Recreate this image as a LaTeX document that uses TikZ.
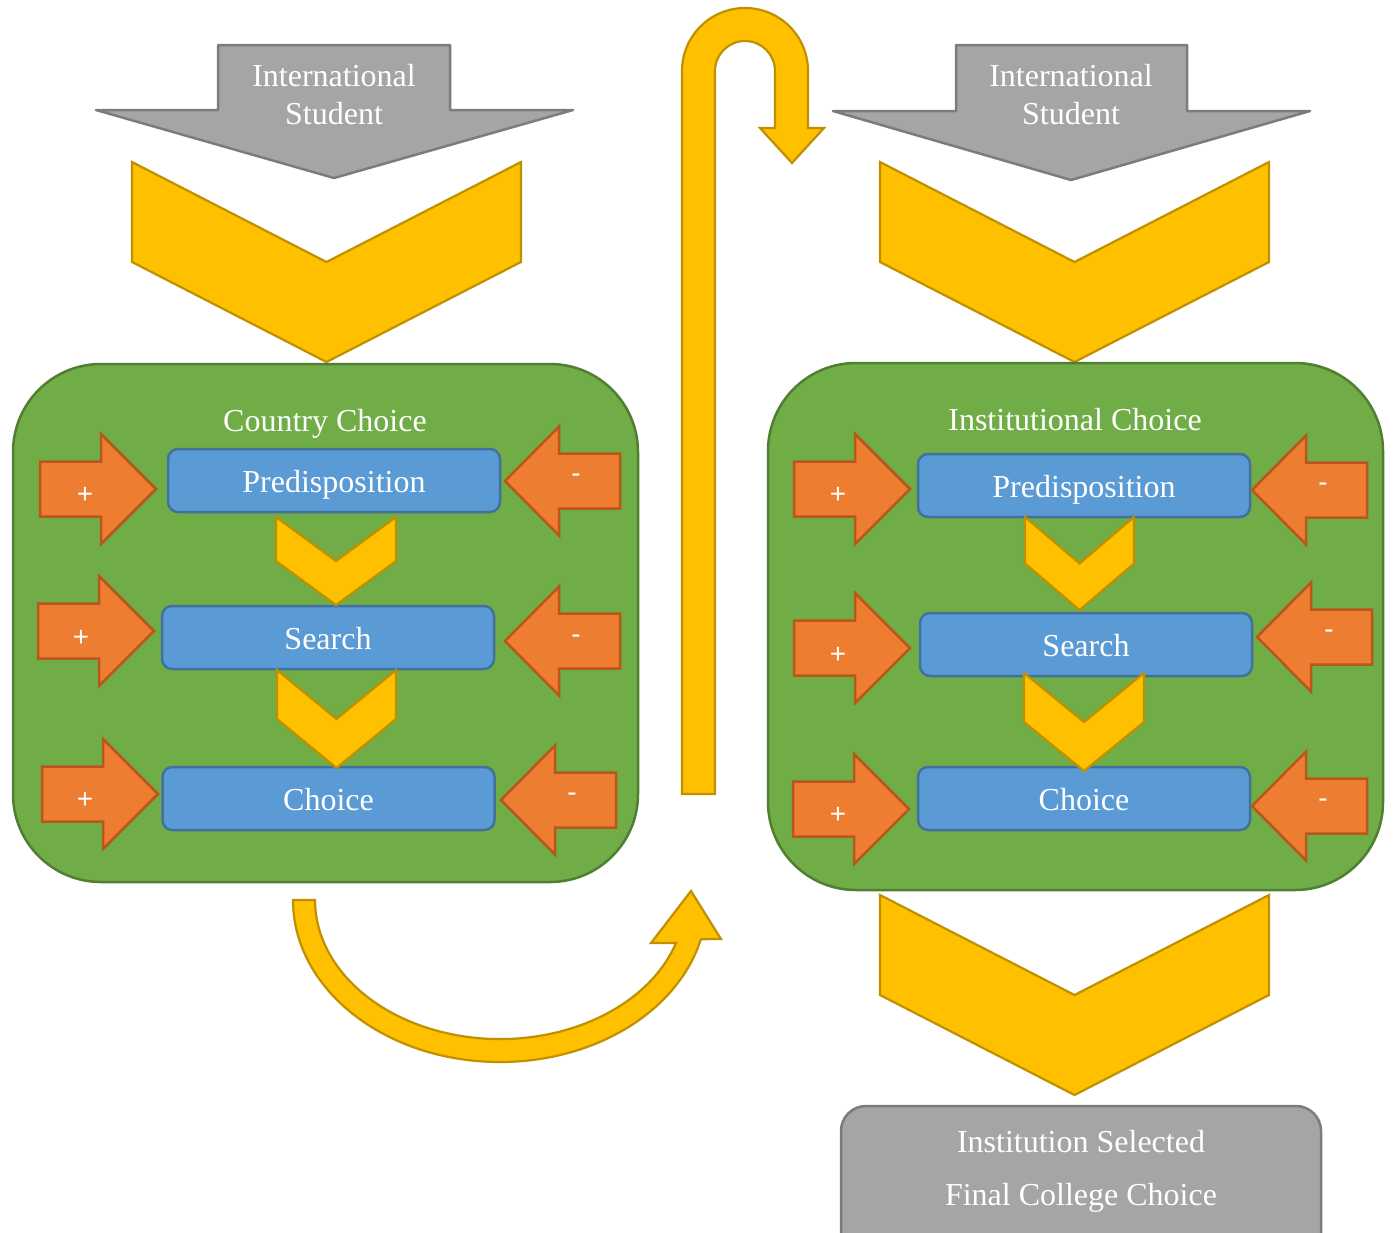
\documentclass[tikz,border=0pt]{standalone}
\usepackage{fontspec}
\setmainfont{Liberation Serif}
\newfontfamily\signfont{Liberation Sans}
\definecolor{goldfill}{HTML}{FFC000}
\definecolor{goldline}{HTML}{BF9000}
\definecolor{orangefill}{HTML}{ED7D31}
\definecolor{orangeline}{HTML}{B9561B}
\definecolor{bluefill}{HTML}{5B9BD5}
\definecolor{blueline}{HTML}{41719C}
\definecolor{greenfill}{HTML}{70AD47}
\definecolor{greenline}{HTML}{507E32}
\definecolor{greyfill}{HTML}{A5A5A5}
\definecolor{greyline}{HTML}{7C7C7C}

\tikzset{
  chev/.style={fill=goldfill, draw=goldline, line width=2.2, line join=miter},
  greyshape/.style={fill=greyfill, draw=greyline, line width=2.5, line join=round},
  stage/.style={fill=greenfill, draw=greenline, line width=2.5, rounded corners=88},
  stepbox/.style={draw=blueline, fill=bluefill, line width=2.5, rounded corners=10,
    minimum width=332, minimum height=63, inner sep=0, text=white,
    text height=23, text depth=0,
    font=\fontsize{32}{38}\selectfont},
  label/.style={text=white, inner sep=0, align=center, font=\fontsize{32}{38}\selectfont},
  sign/.style={text=white, inner sep=0, font=\signfont\fontsize{28}{32}\selectfont},
  force/.style={fill=orangefill, draw=orangeline, line width=2.5, line join=miter},
  pics/plusarrow/.style={code={
    \draw[force] (0,0) -- (-55,55) -- (-55,27.5) -- (-116,27.5) -- (-116,-27.5)
      -- (-55,-27.5) -- (-55,-55) -- cycle;}},
  pics/minusarrow/.style={code={
    \draw[force] (0,0) -- (54,54.5) -- (54,27.5) -- (115,27.5) -- (115,-27.5)
      -- (54,-27.5) -- (54,-54.5) -- cycle;}}
}
% chevron: left x, right x, top y, arm height
\newcommand\chevronshape[4]{%
  \draw[chev] (#1,-#3) -- ({(#1+#2)/2},{-#3-#4}) -- (#2,-#3) -- (#2,{-#3-#4})
    -- ({(#1+#2)/2},{-#3-2*#4}) -- (#1,{-#3-#4}) -- cycle;}

\begin{document}
\begin{tikzpicture}[x=1pt,y=1pt]
\useasboundingbox (0,0) rectangle (1394,-1232);
\clip (0,0) rectangle (1394,-1232);
\fill[white] (0,0) rectangle (1394,-1232);

% ---------- student arrows ----------
\draw[greyshape] (218,-45) -- (450,-45) -- (450,-110) -- (573,-110) -- (334,-178)
  -- (96,-110) -- (218,-110) -- cycle;
\node[label] (studentA) at (334,-95) {International\\Student};
\draw[greyshape] (956,-45) -- (1187,-45) -- (1187,-111) -- (1310,-111) -- (1071,-180)
  -- (833,-111) -- (956,-111) -- cycle;
\node[label] (studentB) at (1071,-95) {International\\Student};

% ---------- big chevrons ----------
\chevronshape{132}{521}{162}{100}
\chevronshape{880}{1269}{162}{100}
\chevronshape{880}{1269}{895}{100}

% ---------- country choice stage ----------
\draw[stage] (13,-364) rectangle (638,-882);
\node[label] (country) at (325,-424) {Country Choice};
\node[stepbox] (cPre) at (334,-480.5) {Predisposition};
\node[stepbox] (cSea) at (328,-637.5) {Search};
\node[stepbox] (cCho) at (328.5,-798.5) {Choice};
\chevronshape{276}{396}{517}{44}
\chevronshape{277}{396}{670}{49}

\pic at (156,-489) {plusarrow};
\pic at (154,-631) {plusarrow};
\pic at (158,-794) {plusarrow};
\pic at (505,-481) {minusarrow};
\pic at (505,-641) {minusarrow};
\pic at (501,-800) {minusarrow};
\node[sign] (cp1) at (85,-495) {+};
\node[sign] (cp2) at (81,-638) {+};
\node[sign] (cp3) at (85,-800) {+};
\node[sign] (cm1) at (576,-478) {-};
\node[sign] (cm2) at (576,-639) {-};
\node[sign] (cm3) at (572,-797) {-};

% ---------- institutional choice stage ----------
\draw[stage] (768,-363) rectangle (1383,-890);
\node[label] (institution) at (1075,-420) {Institutional Choice};
\node[stepbox] (iPre) at (1084,-485.5) {Predisposition};
\node[stepbox] (iSea) at (1086,-644.5) {Search};
\node[stepbox] (iCho) at (1084,-798.5) {Choice};
\chevronshape{1025}{1134}{517}{46.5}
\chevronshape{1024}{1144}{673}{49}

\pic at (910,-489) {plusarrow};
\pic at (910,-648) {plusarrow};
\pic at (909,-809) {plusarrow};
\pic at (1252,-490) {minusarrow};
\pic at (1257,-637) {minusarrow};
\pic at (1252,-806) {minusarrow};
\node[sign] (ip1) at (838,-495) {+};
\node[sign] (ip2) at (838,-655) {+};
\node[sign] (ip3) at (838,-815) {+};
\node[sign] (im1) at (1323,-487) {-};
\node[sign] (im2) at (1329,-634) {-};
\node[sign] (im3) at (1323,-803) {-};

% ---------- U-turn arrow between the stages ----------
\draw[chev] (682,-794) -- (682,-71) arc[start angle=180,end angle=0,radius=63]
  -- (808,-128) -- (824,-128) -- (792,-163) -- (760,-128) -- (775,-128)
  -- (775,-71) arc[start angle=0,end angle=180,radius=30] -- (715,-794) -- cycle;

% ---------- curved arrow below the country stage ----------
\draw[chev] (293,-900) arc[start angle=180,end angle=346,x radius=207,y radius=162]
  -- (721,-939) -- (691,-891) -- (651,-943) -- (676,-943)
  arc[start angle=342,end angle=180,x radius=185,y radius=139] -- cycle;

% ---------- result ----------
\draw[greyshape, rounded corners=25] (841,-1106) rectangle (1321,-1262);
\node[text=white, inner sep=0, align=center, font=\fontsize{32}{53}\selectfont]
  (result) at (1081,-1171.5) {Institution Selected\\Final College Choice};
\end{tikzpicture}
\end{document}
